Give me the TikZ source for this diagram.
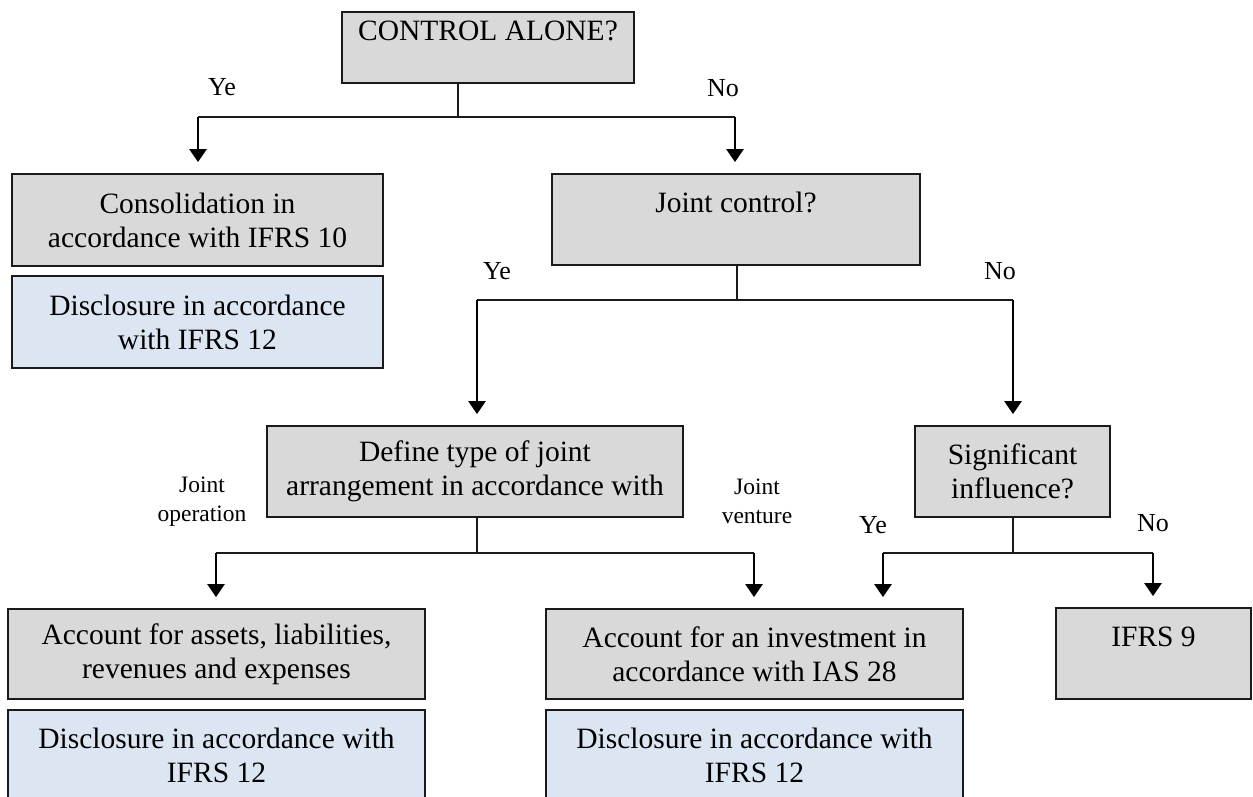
\documentclass[tikz,border=0pt]{standalone}
\usepackage{fontspec}
\setmainfont{Liberation Serif}
\usetikzlibrary{arrows.meta}
\definecolor{boxgrey}{HTML}{D9D9D9}
\definecolor{boxblue}{HTML}{DCE6F2}
\definecolor{edge}{HTML}{1A1A1A}
\tikzset{
  box/.style={draw=edge, line width=1.8pt, fill=boxgrey, inner sep=0pt, align=center,
    font=\fontsize{29.5}{34}\selectfont},
  bluebox/.style={box, fill=boxblue},
  lbl/.style={inner sep=0pt, align=center, font=\fontsize{23.5}{29.5}\selectfont},
  yn/.style={inner sep=0pt, font=\fontsize{26}{30}\selectfont},
  conn/.style={draw=edge, line width=1.5pt},
  arr/.style={draw=black, line width=2.6pt, shorten >=11pt,
    -{Triangle[length=13pt,width=17pt]}},
}
\begin{document}
\begin{tikzpicture}[x=1pt, y=-1pt]
\useasboundingbox (0,0) rectangle (1253,796);

% decision and result boxes
\node[box, minimum width=292pt, minimum height=71pt] (ctrl) at (488,47.5) {CONTROL ALONE?\\\mbox{}};
\node[box, minimum width=371pt, minimum height=92pt] (cons) at (197.5,220) {Consolidation in\\accordance with IFRS 10};
\node[bluebox, minimum width=371pt, minimum height=92pt] (disc1) at (197.5,322) {Disclosure in accordance\\with IFRS 12};
\node[box, minimum width=368pt, minimum height=91pt] (jc) at (736,219.5) {Joint control?\\\mbox{}};
\node[box, minimum width=416pt, minimum height=91pt] (def) at (475,471.5) {Define type of joint\\arrangement in accordance with};
\node[box, minimum width=195pt, minimum height=91pt] (sig) at (1012.5,471.5) {Significant\\influence?};
\node[box, minimum width=417pt, minimum height=90pt] (acc) at (216.5,654) {Account for assets, liabilities,\\revenues and expenses};
\node[bluebox, minimum width=417pt, minimum height=90pt] (disc2) at (216.5,755) {Disclosure in accordance with\\IFRS 12};
\node[box, minimum width=417pt, minimum height=90pt] (ias) at (754.5,654) {Account for an investment in\\accordance with IAS 28};
\node[bluebox, minimum width=417pt, minimum height=90pt] (disc3) at (754.5,755) {Disclosure in accordance with\\IFRS 12};
\node[box, minimum width=195pt, minimum height=91pt] (ifrs) at (1153.5,653.5) {IFRS 9\\\mbox{}};

% branch points
\coordinate (s1) at (458,117);
\coordinate (a1) at (198,117);
\coordinate (b1) at (735,117);
\coordinate (s2) at (737,300);
\coordinate (a2) at (477,300);
\coordinate (b2) at (1013,300);
\coordinate (s3) at (477,553);
\coordinate (a3) at (216,553);
\coordinate (b3) at (754,553);
\coordinate (s4) at (1013,553);
\coordinate (a4) at (883,553);
\coordinate (b4) at (1153,553);

% control alone?
\draw[conn] (ctrl.south -| s1) -- (s1);
\draw[conn] (a1) -- (b1);
\draw[arr] (a1) -- (cons.north -| a1);
\draw[arr] (b1) -- (jc.north -| b1);

% joint control?
\draw[conn] (jc.south -| s2) -- (s2);
\draw[conn] (a2) -- (b2);
\draw[arr] (a2) -- (def.north -| a2);
\draw[arr] (b2) -- (sig.north -| b2);

% type of joint arrangement
\draw[conn] (def.south -| s3) -- (s3);
\draw[conn] (a3) -- (b3);
\draw[arr] (a3) -- (acc.north -| a3);
\draw[arr] (b3) -- (ias.north -| b3);

% significant influence?
\draw[conn] (sig.south -| s4) -- (s4);
\draw[conn] (a4) -- (b4);
\draw[arr] (a4) -- (ias.north -| a4);
\draw[arr] (b4) -- (ifrs.north -| b4);

% branch labels
\node[yn] (y1) at (222,87) {Ye};
\node[yn] (n1) at (723,88) {No};
\node[yn] (y2) at (497,271) {Ye};
\node[yn] (n2) at (1000,271) {No};
\node[lbl] (jo) at (202,501.5) {Joint\\operation};
\node[lbl] (jv) at (757,501.5) {Joint\\venture};
\node[yn] (y3) at (873,525) {Ye};
\node[yn] (n3) at (1153,523) {No};
\end{tikzpicture}
\end{document}
